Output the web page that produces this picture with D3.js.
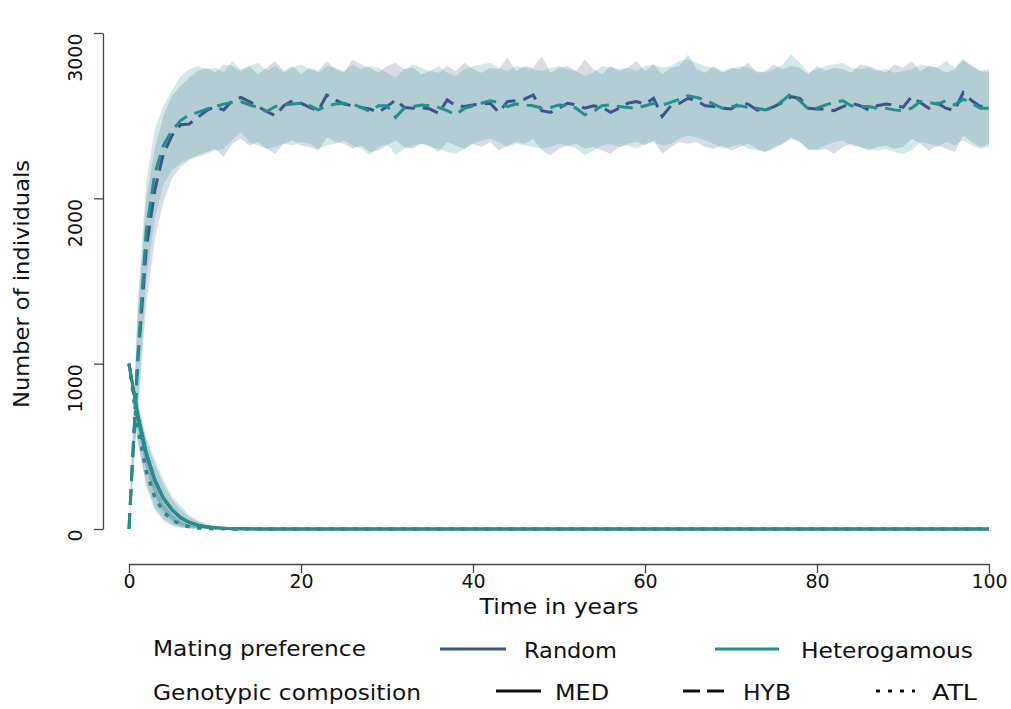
<!DOCTYPE html>
<html><head><meta charset="utf-8">
<script src="https://cdnjs.cloudflare.com/ajax/libs/d3/7.8.5/d3.min.js"></script>
<style>body{margin:0;background:#fff}svg{display:block}text{font-family:"DejaVu Sans",sans-serif;fill:#111}</style>
</head><body><svg id="c" width="1011" height="709"></svg>
<script>
const years = d3.range(0, 101);
const xTicks = [0, 20, 40, 60, 80, 100];
const yTicks = [0, 1000, 2000, 3000];

// HYB (hybrid) means and ribbons
const randHYB = [0,1000,1690,2050,2270,2380,2445,2450,2490,2530,
2555,2535,2590,2610,2585,2555,2525,2500,2560,2590,
2575,2550,2530,2625,2595,2570,2560,2550,2540,2520,
2555,2595,2550,2545,2550,2540,2515,2595,2560,2555,
2565,2570,2575,2520,2585,2590,2600,2625,2530,2520,
2545,2575,2565,2545,2560,2550,2520,2545,2575,2585,
2570,2605,2495,2560,2575,2605,2590,2560,2555,2545,
2540,2575,2570,2535,2535,2555,2580,2615,2605,2545,
2540,2540,2530,2555,2575,2560,2535,2560,2570,2565,
2550,2615,2580,2545,2575,2545,2530,2640,2590,2555,
2560];
const randHYBhi = [0,1300,2000,2300,2500,2620,2680,2730,2770,2790,
2760,2810,2800,2770,2800,2750,2790,2830,2770,2800,
2750,2790,2770,2830,2780,2760,2840,2810,2790,2760,
2800,2820,2780,2790,2750,2770,2760,2800,2770,2820,
2780,2760,2790,2780,2850,2770,2800,2790,2860,2760,
2790,2800,2770,2840,2780,2750,2800,2770,2790,2830,
2770,2810,2750,2790,2800,2870,2780,2760,2800,2760,
2790,2780,2820,2760,2770,2810,2780,2800,2790,2750,
2800,2770,2790,2780,2760,2810,2800,2780,2760,2810,
2790,2830,2770,2800,2790,2760,2780,2840,2800,2770,
2780];
const randHYBlo = [0,700,1350,1750,1980,2120,2190,2230,2260,2280,
2300,2250,2330,2360,2320,2340,2300,2270,2330,2350,
2320,2310,2290,2370,2340,2330,2300,2320,2280,2290,
2320,2350,2310,2300,2330,2320,2280,2340,2320,2300,
2330,2310,2340,2290,2320,2340,2330,2360,2290,2260,
2300,2320,2330,2300,2310,2290,2270,2310,2330,2340,
2320,2350,2270,2310,2340,2330,2340,2310,2300,2320,
2290,2310,2330,2300,2280,2310,2330,2360,2340,2300,
2290,2300,2270,2310,2330,2310,2290,2310,2320,2300,
2310,2360,2330,2290,2320,2300,2280,2380,2340,2310,
2330];
const hetHYB = [0,1020,1800,2150,2320,2410,2470,2505,2520,2540,
2555,2570,2580,2585,2565,2550,2525,2555,2565,2570,
2575,2560,2535,2560,2570,2575,2570,2550,2525,2560,
2560,2490,2545,2555,2565,2560,2550,2530,2505,2545,
2560,2575,2590,2580,2555,2570,2565,2560,2545,2550,
2565,2560,2545,2505,2525,2560,2565,2555,2550,2545,
2560,2575,2565,2580,2600,2620,2610,2595,2570,2545,
2555,2560,2550,2545,2535,2550,2590,2635,2590,2540,
2545,2565,2580,2590,2560,2555,2555,2545,2545,2535,
2530,2545,2585,2580,2570,2590,2565,2600,2575,2545,
2545];
const hetHYBhi = [0,1350,2100,2420,2560,2650,2740,2780,2800,2780,
2790,2760,2830,2780,2800,2820,2770,2800,2760,2790,
2810,2780,2760,2800,2790,2770,2810,2780,2800,2790,
2760,2730,2780,2810,2790,2770,2800,2760,2740,2780,
2800,2810,2820,2790,2770,2800,2790,2780,2770,2790,
2800,2780,2770,2740,2760,2800,2790,2780,2790,2770,
2800,2810,2790,2800,2830,2840,2820,2800,2790,2770,
2780,2800,2790,2770,2760,2780,2810,2870,2820,2760,
2780,2800,2810,2820,2790,2780,2790,2770,2780,2760,
2770,2780,2810,2800,2790,2830,2790,2840,2800,2770,
2760];
const hetHYBlo = [0,700,1500,1880,2080,2170,2210,2240,2250,2270,
2290,2300,2350,2400,2340,2320,2300,2310,2330,2320,
2340,2330,2300,2320,2330,2350,2320,2300,2260,2310,
2330,2260,2300,2320,2330,2310,2300,2280,2270,2300,
2330,2350,2360,2340,2310,2330,2320,2310,2300,2310,
2330,2320,2300,2260,2290,2320,2330,2310,2320,2300,
2330,2340,2320,2330,2360,2380,2370,2350,2330,2300,
2310,2330,2300,2290,2280,2300,2330,2370,2340,2290,
2300,2320,2340,2350,2320,2310,2300,2290,2300,2280,
2270,2290,2340,2330,2310,2340,2320,2350,2320,2300,
2310];

// MED means and ribbons
const randMED = [1000,690,455,295,185,115,68,40,23,13,
7,4,2,1,1,0,0,0,0,0,
0,0,0,0,0,0,0,0,0,0,
0,0,0,0,0,0,0,0,0,0,
0,0,0,0,0,0,0,0,0,0,
0,0,0,0,0,0,0,0,0,0,
0,0,0,0,0,0,0,0,0,0,
0,0,0,0,0,0,0,0,0,0,
0,0,0,0,0,0,0,0,0,0,
0,0,0,0,0,0,0,0,0,0,
0];
const randMEDhi = [1000,760,540,390,270,180,115,72,45,26,
15,8,4,2,1,0,0,0,0,0,
0,0,0,0,0,0,0,0,0,0,
0,0,0,0,0,0,0,0,0,0,
0,0,0,0,0,0,0,0,0,0,
0,0,0,0,0,0,0,0,0,0,
0,0,0,0,0,0,0,0,0,0,
0,0,0,0,0,0,0,0,0,0,
0,0,0,0,0,0,0,0,0,0,
0,0,0,0,0,0,0,0,0,0,
0];
const randMEDlo = [1000,620,370,210,110,55,25,12,5,2,
1,0,0,0,0,0,0,0,0,0,
0,0,0,0,0,0,0,0,0,0,
0,0,0,0,0,0,0,0,0,0,
0,0,0,0,0,0,0,0,0,0,
0,0,0,0,0,0,0,0,0,0,
0,0,0,0,0,0,0,0,0,0,
0,0,0,0,0,0,0,0,0,0,
0,0,0,0,0,0,0,0,0,0,
0,0,0,0,0,0,0,0,0,0,
0];
const hetMED = [1000,700,465,300,190,118,70,41,24,13,
7,4,2,1,1,0,0,0,0,0,
0,0,0,0,0,0,0,0,0,0,
0,0,0,0,0,0,0,0,0,0,
0,0,0,0,0,0,0,0,0,0,
0,0,0,0,0,0,0,0,0,0,
0,0,0,0,0,0,0,0,0,0,
0,0,0,0,0,0,0,0,0,0,
0,0,0,0,0,0,0,0,0,0,
0,0,0,0,0,0,0,0,0,0,
0];
const hetMEDhi = [1000,780,560,420,300,200,140,85,55,30,
16,8,4,2,1,0,0,0,0,0,
0,0,0,0,0,0,0,0,0,0,
0,0,0,0,0,0,0,0,0,0,
0,0,0,0,0,0,0,0,0,0,
0,0,0,0,0,0,0,0,0,0,
0,0,0,0,0,0,0,0,0,0,
0,0,0,0,0,0,0,0,0,0,
0,0,0,0,0,0,0,0,0,0,
0,0,0,0,0,0,0,0,0,0,
0];
const hetMEDlo = [1000,610,360,190,95,45,20,9,4,2,
1,0,0,0,0,0,0,0,0,0,
0,0,0,0,0,0,0,0,0,0,
0,0,0,0,0,0,0,0,0,0,
0,0,0,0,0,0,0,0,0,0,
0,0,0,0,0,0,0,0,0,0,
0,0,0,0,0,0,0,0,0,0,
0,0,0,0,0,0,0,0,0,0,
0,0,0,0,0,0,0,0,0,0,
0,0,0,0,0,0,0,0,0,0,
0];

// ATL means and ribbons
const randATL = [1000,610,350,195,105,55,28,14,7,3,
2,1,0,0,0,0,0,0,0,0,
0,0,0,0,0,0,0,0,0,0,
0,0,0,0,0,0,0,0,0,0,
0,0,0,0,0,0,0,0,0,0,
0,0,0,0,0,0,0,0,0,0,
0,0,0,0,0,0,0,0,0,0,
0,0,0,0,0,0,0,0,0,0,
0,0,0,0,0,0,0,0,0,0,
0,0,0,0,0,0,0,0,0,0,
0];
const randATLhi = [1000,690,440,270,160,90,50,27,14,7,
3,1,0,0,0,0,0,0,0,0,
0,0,0,0,0,0,0,0,0,0,
0,0,0,0,0,0,0,0,0,0,
0,0,0,0,0,0,0,0,0,0,
0,0,0,0,0,0,0,0,0,0,
0,0,0,0,0,0,0,0,0,0,
0,0,0,0,0,0,0,0,0,0,
0,0,0,0,0,0,0,0,0,0,
0,0,0,0,0,0,0,0,0,0,
0];
const randATLlo = [1000,530,270,130,60,25,10,4,2,1,
0,0,0,0,0,0,0,0,0,0,
0,0,0,0,0,0,0,0,0,0,
0,0,0,0,0,0,0,0,0,0,
0,0,0,0,0,0,0,0,0,0,
0,0,0,0,0,0,0,0,0,0,
0,0,0,0,0,0,0,0,0,0,
0,0,0,0,0,0,0,0,0,0,
0,0,0,0,0,0,0,0,0,0,
0,0,0,0,0,0,0,0,0,0,
0];
const hetATL = [1000,620,345,190,100,52,27,13,6,3,
1,1,0,0,0,0,0,0,0,0,
0,0,0,0,0,0,0,0,0,0,
0,0,0,0,0,0,0,0,0,0,
0,0,0,0,0,0,0,0,0,0,
0,0,0,0,0,0,0,0,0,0,
0,0,0,0,0,0,0,0,0,0,
0,0,0,0,0,0,0,0,0,0,
0,0,0,0,0,0,0,0,0,0,
0,0,0,0,0,0,0,0,0,0,
0];
const hetATLhi = [1000,700,430,280,150,90,48,25,13,6,
3,1,0,0,0,0,0,0,0,0,
0,0,0,0,0,0,0,0,0,0,
0,0,0,0,0,0,0,0,0,0,
0,0,0,0,0,0,0,0,0,0,
0,0,0,0,0,0,0,0,0,0,
0,0,0,0,0,0,0,0,0,0,
0,0,0,0,0,0,0,0,0,0,
0,0,0,0,0,0,0,0,0,0,
0,0,0,0,0,0,0,0,0,0,
0];
const hetATLlo = [1000,540,260,110,50,20,8,3,1,0,
0,0,0,0,0,0,0,0,0,0,
0,0,0,0,0,0,0,0,0,0,
0,0,0,0,0,0,0,0,0,0,
0,0,0,0,0,0,0,0,0,0,
0,0,0,0,0,0,0,0,0,0,
0,0,0,0,0,0,0,0,0,0,
0,0,0,0,0,0,0,0,0,0,
0,0,0,0,0,0,0,0,0,0,
0,0,0,0,0,0,0,0,0,0,
0];

const preferences = ["Random", "Heterogamous"];
const prefColors = ["#3b528b", "#21908c"];
const genotypes = ["MED", "HYB", "ATL"];
const dashes = [null, "16,8", "4,8"];

const svg = d3.select("#c");
const x = d3.scaleLinear().domain([0, 100]).range([129, 989]);
const y = d3.scaleLinear().domain([0, 3000]).range([529, 33]);

const series = [
  {pref: 0, gen: 0, m: randMED, lo: randMEDlo, hi: randMEDhi},
  {pref: 0, gen: 2, m: randATL, lo: randATLlo, hi: randATLhi},
  {pref: 0, gen: 1, m: randHYB, lo: randHYBlo, hi: randHYBhi},
  {pref: 1, gen: 0, m: hetMED, lo: hetMEDlo, hi: hetMEDhi},
  {pref: 1, gen: 2, m: hetATL, lo: hetATLlo, hi: hetATLhi},
  {pref: 1, gen: 1, m: hetHYB, lo: hetHYBlo, hi: hetHYBhi}
];

const area = (lo, hi) => d3.area().x((d, i) => x(years[i])).y0((d, i) => y(lo[i])).y1((d, i) => y(hi[i]));
const line = d3.line().x((d, i) => x(years[i])).y(d => y(d));

series.forEach(s => {
  svg.append("path").datum(s.m).attr("d", area(s.lo, s.hi))
    .attr("fill", prefColors[s.pref]).attr("fill-opacity", 0.2).attr("stroke", "none");
});
series.forEach(s => {
  svg.append("path").datum(s.m).attr("d", line)
    .attr("fill", "none").attr("stroke", prefColors[s.pref]).attr("stroke-width", 3)
    .attr("stroke-dasharray", dashes[s.gen]);
});

// axes
const ax = svg.append("g").attr("transform", "translate(0,564)")
  .call(d3.axisBottom(x).tickValues(xTicks).tickSizeInner(9).tickSizeOuter(0).tickPadding(2).tickFormat(d3.format("d")));
const ay = svg.append("g").attr("transform", "translate(103,0)")
  .call(d3.axisLeft(y).tickValues(yTicks).tickSizeInner(9).tickSizeOuter(0).tickFormat(d3.format("d")));
[ax, ay].forEach(g => {
  g.selectAll("path,line").attr("stroke", "#444").attr("stroke-width", 1.3);
  g.selectAll("text").attr("font-family", "DejaVu Sans").attr("font-size", 19).attr("fill", "#111");
});
ay.selectAll(".tick text").attr("transform", "rotate(-90)").attr("x", 0).attr("y", -28)
  .attr("dy", "0.35em").attr("text-anchor", "end");

const fs = 21;
const label = (g, xx, yy, txt, len, anchor) => g.append("text").attr("x", xx).attr("y", yy)
  .attr("font-size", fs).attr("text-anchor", anchor || "start")
  .attr("textLength", len).attr("lengthAdjust", "spacingAndGlyphs").text(txt);

label(svg, 559, 614, "Time in years", 159, "middle");
svg.append("text").attr("transform", "translate(29,284) rotate(-90)").attr("text-anchor", "middle")
  .attr("font-size", fs).attr("textLength", 248).attr("lengthAdjust", "spacingAndGlyphs")
  .text("Number of individuals");

// legend
const lg = svg.append("g");
label(lg, 153, 656, "Mating preference", 213);
label(lg, 153, 700, "Genotypic composition", 268);
const prefPos = [[440, 506, 524, 93], [715, 779, 801, 172]];
preferences.forEach((p, i) => {
  lg.append("line").attr("x1", prefPos[i][0]).attr("x2", prefPos[i][1]).attr("y1", 649).attr("y2", 649)
    .attr("stroke", prefColors[i]).attr("stroke-width", 3);
  label(lg, prefPos[i][2], 658, p, prefPos[i][3]);
});
const genPos = [[496, 541, 555, 54], [683, 728, 743, 48], [876, 915, 932, 45]];
const legDash = [null, "17,7", "4,8"];
genotypes.forEach((g, i) => {
  lg.append("line").attr("x1", genPos[i][0]).attr("x2", genPos[i][1]).attr("y1", 691).attr("y2", 691)
    .attr("stroke", "#111").attr("stroke-width", 3).attr("stroke-dasharray", legDash[i]);
  label(lg, genPos[i][2], 700, g, genPos[i][3]);
});
</script></body></html>
